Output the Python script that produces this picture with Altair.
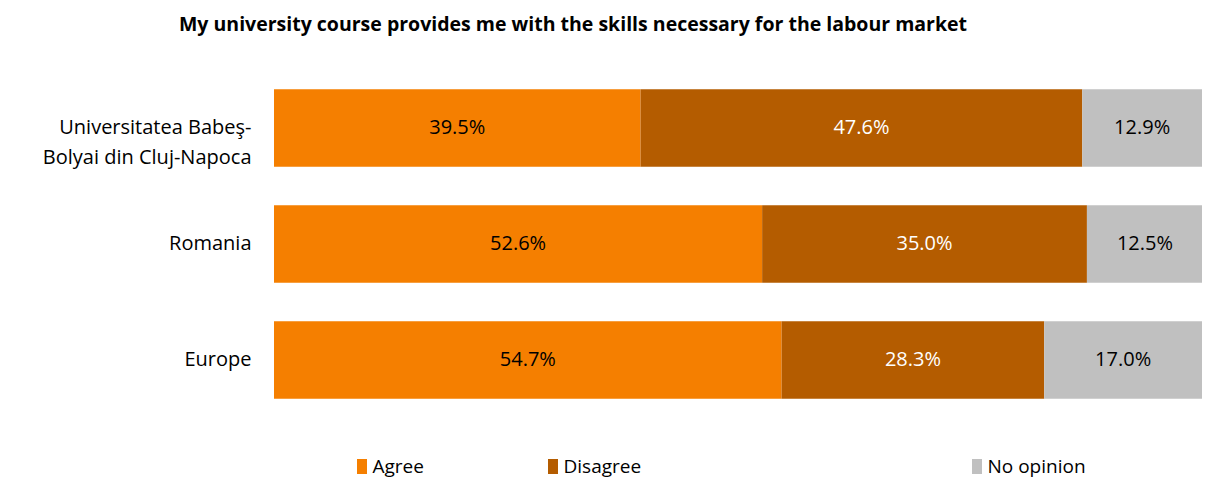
import altair as alt
import pandas as pd

categories = ["Universitatea Babeş-Bolyai din Cluj-Napoca", "Romania", "Europe"]
responses = ["Agree", "Disagree", "No opinion"]
agree = [39.5, 52.6, 54.7]
disagree = [47.6, 35.0, 28.3]
no_opinion = [12.9, 12.5, 17.0]
colors = ["#F57F00", "#B45C00", "#C0C0C0"]

rows = []
for i, c in enumerate(categories):
    start = 0.0
    for r, vals in zip(responses, [agree, disagree, no_opinion]):
        v = vals[i]
        rows.append({"category": c, "response": r, "value": v,
                     "start": start, "end": start + v, "mid": start + v / 2,
                     "label": f"{v:.1f}%"})
        start += v
df = pd.DataFrame(rows)

FONT = "Open Sans"
label_expr = ("datum.value == 'Universitatea Babeş-Bolyai din Cluj-Napoca' ? "
              "['Universitatea Babeş-', 'Bolyai din Cluj-Napoca'] : datum.value")

y_enc = alt.Y("category:N", sort=categories, title=None,
              scale=alt.Scale(paddingInner=0.33, paddingOuter=0.165),
              axis=alt.Axis(labelExpr=label_expr, labelFontSize=20, labelFont=FONT,
                            labelColor="black", labelPadding=23, labelLineHeight=30,
                            domain=False, ticks=False, labelLimit=300))
x_scale = alt.Scale(domain=[0, 100], nice=False, zero=True)

legend_x = [78.5, 269.5, 693.5]
base = alt.Chart(df)
layers = []
for r, col, lx in zip(responses, colors, legend_x):
    layers.append(
        base.transform_filter(alt.datum.response == r).mark_bar().encode(
            x=alt.X("start:Q", scale=x_scale, axis=None),
            x2="end:Q",
            y=y_enc,
            color=alt.Color("response:N",
                            scale=alt.Scale(domain=[r], range=[col]),
                            legend=alt.Legend(orient="none", legendX=lx, legendY=387,
                                              title=None, padding=0,
                                              symbolType="M-0.67,-1H0.67V1H-0.67Z",
                                              symbolSize=225, symbolStrokeWidth=0,
                                              symbolOpacity=1,
                                              labelFontSize=19, labelFont=FONT,
                                              labelColor="black", labelOffset=1)),
        )
    )

text = base.mark_text(fontSize=20, font=FONT).encode(
    x=alt.X("mid:Q", scale=x_scale, axis=None),
    y=alt.Y("category:N", sort=categories),
    text="label:N",
    color=alt.condition(alt.datum.response == "Disagree", alt.value("white"), alt.value("black")),
)

chart = alt.layer(*layers, text).resolve_scale(color="independent").properties(
    width=928, height=348,
    title=alt.Title("My university course provides me with the skills necessary for the labour market",
                    font=FONT, fontSize=19.5, fontWeight="bold", color="black",
                    anchor="middle", frame="group", dx=-165, offset=35),
    autosize=alt.AutoSizeParams(type="none"),
    padding={"left": 266, "top": 62, "right": 0, "bottom": 60},
).configure_view(stroke=None)

chart.save("out.html", embed_options={"renderer": "svg", "actions": False})
